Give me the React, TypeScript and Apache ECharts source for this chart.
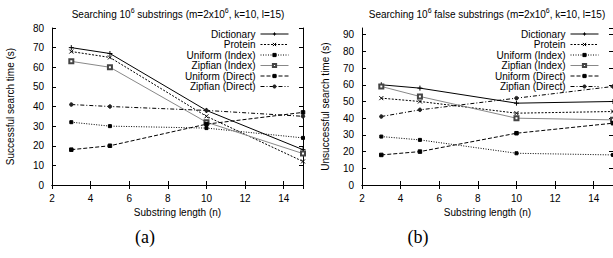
import React, { useEffect, useRef } from 'react';
import * as echarts from 'echarts';

const lengths = [3, 5, 10, 15];
const seriesNames = ['Dictionary', 'Protein', 'Uniform (Index)', 'Zipfian (Index)', 'Uniform (Direct)', 'Zipfian (Direct)'];

// (a) successful search time (s)
const succDictionary = [70, 67, 38, 18];
const succProtein = [68, 65, 35, 12];
const succUniformIndex = [32, 30, 29, 24];
const succZipfianIndex = [63, 60, 32, 16];
const succUniformDirect = [18, 20, 31, 37];
const succZipfianDirect = [41, 40, 38, 35];

// (b) unsuccessful search time (s)
const failDictionary = [60, 58, 49, 50];
const failProtein = [52, 50, 43, 44];
const failUniformIndex = [29, 27, 19, 18];
const failZipfianIndex = [59, 53, 40, 39];
const failUniformDirect = [18, 20, 31, 37];
const failZipfianDirect = [41, 45, 52, 59];

const leftYTickLabels = [0, 10, 20, 30, 40, 50, 60, 70, 80];

const xTicks = { min: 2, max: 15, interval: 2 };
const leftY = { min: 0, max: 80, interval: 10 };
const rightY = { min: 0, max: 94, interval: 10 };

const FONT = 'Liberation Sans, Arial, sans-serif';

const plusPath = 'path://M0,5L10,5M5,0L5,10';
const crossPath = 'path://M0,0L10,10M10,0L0,10';

const styles: any[] = [
  { color: '#000', line: 'solid', symbol: plusPath, size: 5, fill: '#000', border: '#000' },
  { color: '#000', line: [2, 1.5], symbol: crossPath, size: 4, fill: '#000', border: '#000' },
  { color: '#000', line: [1, 1.5], symbol: 'rect', size: 3, fill: '#000', border: '#000' },
  { color: '#888', line: 'solid', symbol: 'emptyRect', size: 4, fill: '#444', border: '#444' },
  { color: '#000', line: [4, 2], symbol: 'rect', size: 3.5, fill: '#000', border: '#000' },
  { color: '#000', line: [4, 2, 1, 2], symbol: 'circle', size: 3.5, fill: '#222', border: '#222' },
];

function makeSeries(values: number[][], xIdx: number, yIdx: number) {
  return values.map((vals, i) => {
    const s = styles[i];
    return {
      type: 'line',
      name: seriesNames[i],
      xAxisIndex: xIdx,
      yAxisIndex: yIdx,
      data: lengths.map((x, j) => [x, vals[j]]),
      symbol: s.symbol,
      symbolSize: s.size,
      showAllSymbol: true,
      lineStyle: { color: s.color, width: 1, type: s.line },
      itemStyle: { color: s.fill, borderColor: s.border, borderWidth: 1 },
      emphasis: { disabled: true },
      z: 3,
    };
  });
}

function axisCommon(labelShow: boolean, showMax: boolean) {
  return {
    axisLine: { show: true, lineStyle: { color: '#000', width: 1 } },
    axisTick: { show: true, inside: true, length: 4, lineStyle: { color: '#000' } },
    axisLabel: { show: labelShow, color: '#000', fontSize: 10, fontFamily: FONT, showMaxLabel: showMax, showMinLabel: true },
    splitLine: { show: false },
  };
}

function legendFor(right: number) {
  return {
    orient: 'vertical',
    align: 'right',
    right,
    top: 29,
    padding: 0,
    itemWidth: 28,
    itemHeight: 4,
    itemGap: 0.5,
    selectedMode: false,
    lineStyle: { width: 1 },
    itemStyle: { borderWidth: 1 },
    textStyle: { fontSize: 10, fontFamily: FONT, color: '#000', lineHeight: 10 },
    data: seriesNames,
  };
}

function titleText(x: number, parts: string[]) {
  return {
    type: 'text',
    x,
    y: 13,
    style: {
      text: `{a|${parts[0]}}{s|6}{a|${parts[1]}}{s|6}{a|${parts[2]}}`,
      align: 'center',
      verticalAlign: 'middle',
      rich: {
        a: { fontSize: 10, fontFamily: FONT, fill: '#000', lineHeight: 12, verticalAlign: 'bottom' },
        s: { fontSize: 7, fontFamily: FONT, fill: '#000', lineHeight: 12, verticalAlign: 'top' },
      },
    },
  };
}

const nameStyle = { fontSize: 10, fontFamily: FONT, color: '#000' };

export default function App() {
  const ref = useRef<HTMLDivElement>(null);
  useEffect(() => {
    if (!ref.current) return;
    const chart = echarts.init(ref.current, undefined, { renderer: 'svg' });
    const leftRect = { left: 52, right: 310, top: 28, bottom: 73, containLabel: false };
    const rightRect = { left: 362, right: 0, top: 28, bottom: 73, containLabel: false };
    const baseGraphic: any[] = [
      titleText(178, ['Searching 10', ' substrings (m=2x10', ', k=10, l=15)']),
      titleText(487, ['Searching 10', ' false substrings (m=2x10', ', k=10, l=15)']),
      { type: 'text', x: 145, y: 237, style: { text: '(a)', fontSize: 18, fontFamily: 'Liberation Serif, Times New Roman, serif', fill: '#000', align: 'center', verticalAlign: 'middle' } },
      { type: 'text', x: 418, y: 237, style: { text: '(b)', fontSize: 18, fontFamily: 'Liberation Serif, Times New Roman, serif', fill: '#000', align: 'center', verticalAlign: 'middle' } },
    ];
    const option: any = {
      animation: false,
      backgroundColor: '#fff',
      grid: [leftRect, rightRect, { ...leftRect }, { ...rightRect }],
      xAxis: [
        { type: 'value', gridIndex: 0, position: 'bottom', ...xTicks, ...axisCommon(true, false),
          name: 'Substring length (n)', nameLocation: 'middle', nameGap: 19, nameTextStyle: nameStyle },
        { type: 'value', gridIndex: 2, position: 'top', ...xTicks, ...axisCommon(false, false) },
        { type: 'value', gridIndex: 1, position: 'bottom', ...xTicks, ...axisCommon(true, false),
          name: 'Substring length (n)', nameLocation: 'middle', nameGap: 19, nameTextStyle: nameStyle },
        { type: 'value', gridIndex: 3, position: 'top', ...xTicks, ...axisCommon(false, false) },
      ],
      yAxis: [
        { type: 'value', gridIndex: 0, position: 'left', ...leftY, ...axisCommon(false, true),
          name: 'Successful search time (s)', nameLocation: 'middle', nameGap: 37, nameTextStyle: nameStyle },
        { type: 'value', gridIndex: 2, position: 'right', ...leftY, ...axisCommon(false, true) },
        { type: 'value', gridIndex: 1, position: 'left', ...rightY, ...axisCommon(true, false),
          name: 'Unsuccessful search time (s)', nameLocation: 'middle', nameGap: 32, nameTextStyle: nameStyle },
        { type: 'value', gridIndex: 3, position: 'right', ...rightY, ...axisCommon(false, false) },
      ],
      legend: [legendFor(324), legendFor(14)],
      series: [
        ...makeSeries([succDictionary, succProtein, succUniformIndex, succZipfianIndex, succUniformDirect, succZipfianDirect], 0, 0),
        ...makeSeries([failDictionary, failProtein, failUniformIndex, failZipfianIndex, failUniformDirect, failZipfianDirect], 2, 2),
      ],
      graphic: baseGraphic,
    };
    chart.setOption(option);
    // left y tick labels placed through the axis scale
    const labelEls = leftYTickLabels.map((v) => {
      const p = chart.convertToPixel({ xAxisIndex: 0, yAxisIndex: 0 } as any, [xTicks.min, v]) as number[];
      return {
        type: 'text',
        x: p[0] - 8,
        y: p[1],
        style: { text: String(v), fontSize: 10, fontFamily: FONT, fill: '#000', align: 'right', verticalAlign: 'middle' },
      };
    });
    chart.setOption({ graphic: [...baseGraphic, ...labelEls] });
    return () => chart.dispose();
  }, []);
  return <div ref={ref} style={{ position: 'fixed', left: 0, top: 0, width: 613, height: 258, background: '#fff' }} />;
}
